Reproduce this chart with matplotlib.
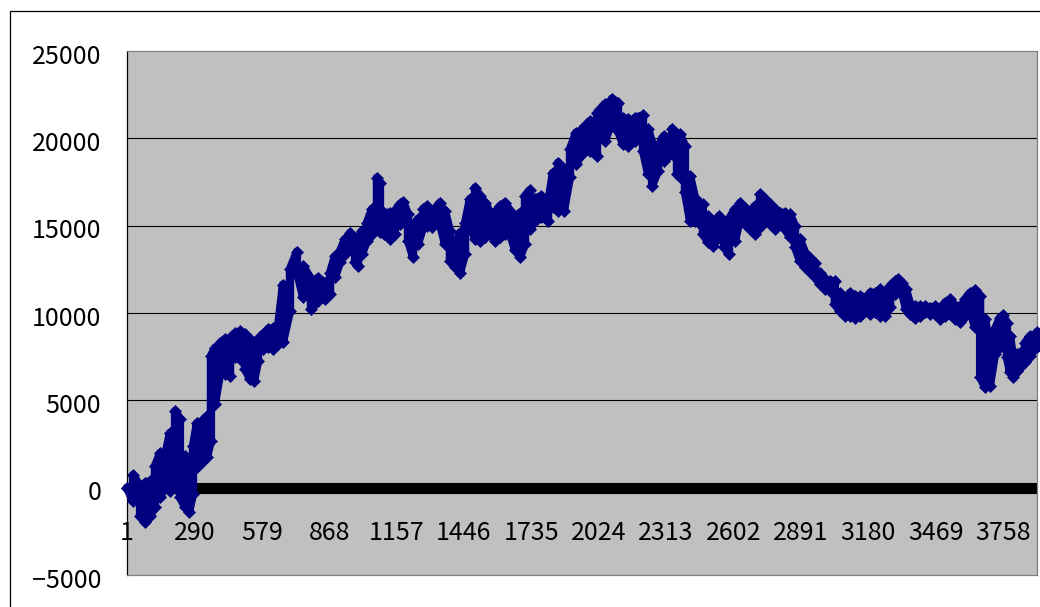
import matplotlib
matplotlib.use("Agg")
import matplotlib.pyplot as plt
from matplotlib.patches import Rectangle
from matplotlib.transforms import blended_transform_factory, ScaledTranslation

# Running total of the strategy: for each sampled trade number, the
# highest and lowest cumulative result reached around that trade
trade_no = [
    1, 27, 57, 78, 100, 121, 143, 164, 185, 207, 228, 250, 267, 284, 301,
    323, 344, 361, 378, 400, 421, 443, 464, 486, 507, 529, 546, 563, 584,
    606, 627, 649, 670, 700, 730, 756, 790, 820, 850, 872, 893, 915, 936,
    957, 979, 992, 1009, 1030, 1052, 1073, 1086, 1103, 1129, 1150, 1172,
    1185, 1206, 1228, 1249, 1271, 1288, 1309, 1343, 1365, 1386, 1408, 1429,
    1451, 1472, 1494, 1515, 1537, 1558, 1579, 1601, 1622, 1644, 1665, 1687,
    1708, 1729, 1751, 1777, 1807, 1828, 1850, 1875, 1901, 1927, 1953, 1987,
    2017, 2051, 2081, 2107, 2128, 2150, 2180, 2214, 2236, 2253, 2279, 2304,
    2339, 2360, 2373, 2394, 2416, 2437, 2459, 2471, 2493, 2514, 2540, 2562,
    2583, 2609, 2630, 2652, 2673, 2694, 2716, 2737, 2759, 2780, 2802, 2823,
    2845, 2866, 2887, 2909, 2930, 2952, 2973, 2995, 3016, 3037, 3059, 3080,
    3102, 3123, 3145, 3166, 3188, 3209, 3231, 3252, 3274, 3295, 3308, 3325,
    3342, 3360, 3381, 3403, 3424, 3445, 3467, 3488, 3509, 3531, 3552, 3574,
    3595, 3617, 3638, 3660, 3681, 3702, 3724, 3745, 3758, 3775, 3788, 3801,
    3818, 3831, 3853, 3874, 3904,
]
run_high = [
    0, 720, 90, 260, 380, 1240, 1980, 1810, 3130, 4390, 3930, 1810, 490,
    2380, 3700, 3810, 4100, 7540, 8000, 8280, 8510, 8570, 8850, 8970, 8800,
    8510, 8220, 8510, 8800, 9080, 9140, 9250, 11630, 12520, 13520, 12690,
    11950, 12020, 11730, 12310, 13260, 13550, 14240, 14580, 14310, 14030,
    14700, 15170, 15960, 17750, 17460, 15740, 15740, 15840, 16240, 16360,
    15670, 14880, 15380, 15960, 16130, 15740, 16320, 15840, 14700, 13840,
    14600, 15170, 16530, 17180, 16700, 16320, 15740, 15740, 16130, 16320,
    15840, 15270, 15740, 16700, 17040, 16530, 16700, 16320, 18030, 18610,
    18250, 19390, 20330, 20540, 21000, 21470, 21970, 22270, 22040, 21180,
    21110, 21180, 21320, 20540, 19750, 19560, 20140, 20550, 20140, 20230,
    19560, 17850, 16600, 16240, 16240, 15550, 15170, 15550, 15170, 15380,
    15960, 16300, 16030, 15740, 16130, 16800, 16530, 16240, 15960, 15740,
    15740, 15650, 14980, 14240, 13450, 13170, 12880, 12310, 11950, 11830,
    11830, 11160, 10800, 11160, 10970, 10970, 10880, 11160, 11160, 11360,
    11160, 11550, 11830, 11960, 11730, 11360, 10500, 10400, 10400, 10400,
    10300, 10400, 10300, 10590, 10780, 10400, 10400, 10780, 11160, 11320,
    10970, 9660, 8010, 9080, 9730, 9870, 9440, 8680, 7540, 7650, 7730, 8300,
    8680, 8910,
]
run_low = [
    -20, -770, -1630, -1970, -1630, -1110, -540, 30, -190, 380, -540, -1110,
    -1400, -370, 1180, 1470, 1750, 2670, 4790, 6510, 6510, 6390, 7480, 7360,
    6790, 6220, 6110, 7250, 7940, 8050, 7940, 8220, 8340, 10110, 12350,
    10920, 10230, 10700, 10800, 11090, 12060, 12920, 13380, 13780, 12920,
    12710, 13380, 14140, 14520, 14810, 14640, 14520, 14240, 14520, 15100,
    15290, 14140, 13210, 13950, 14920, 15000, 14910, 15100, 13950, 12990,
    12630, 12290, 13380, 15100, 14240, 14140, 14350, 14710, 14140, 14330,
    14520, 14520, 13610, 13190, 13950, 14810, 15290, 15500, 15290, 16070,
    15860, 15860, 17790, 18530, 19110, 19290, 19010, 19870, 20920, 20440,
    19680, 19580, 19870, 19290, 17960, 17290, 18150, 18720, 19110, 17960,
    17790, 16930, 15270, 15290, 15100, 14520, 14070, 13850, 14350, 13780,
    13380, 14140, 15380, 15100, 14810, 14520, 14920, 15380, 15100, 14810,
    15100, 14810, 14350, 13780, 12990, 12630, 12350, 12060, 11660, 11370,
    11280, 10510, 10130, 9840, 9840, 9710, 9840, 10130, 9940, 10040, 9840,
    9840, 10340, 11090, 11280, 11180, 10230, 9940, 9710, 9840, 10040, 9940,
    9940, 9660, 9840, 9940, 9660, 9470, 9840, 10130, 9200, 6330, 5760, 5840,
    7650, 8050, 8220, 7480, 6620, 6350, 6700, 6910, 7190, 7550, 8050,
]
n_trades = 3904
zero_x = [1, n_trades]
zero_y = [0, 0]

y_ticks = [-5000, 0, 5000, 10000, 15000, 20000, 25000]
x_tick_labels = [1, 290, 579, 868, 1157, 1446, 1735, 2024, 2313, 2602,
                 2891, 3180, 3469, 3758]

# walk through the highs and lows in alternating order so the path
# sweeps the full range covered at each step
path_x, path_y = [], []
for k, t in enumerate(trade_no):
    pair = (run_high[k], run_low[k]) if k % 2 == 0 else (run_low[k], run_high[k])
    for v in pair:
        path_x.append(t)
        path_y.append(v)

W, H = 1040, 607
fig = plt.figure(figsize=(W / 100, H / 100), dpi=100)
fig.patch.set_facecolor("white")

# outer chart frame
fig.patches.append(Rectangle((9.5 / W, 1 - 633 / H), 1060 / W, 622 / H,
                             transform=fig.transFigure, fill=False,
                             edgecolor="black", linewidth=0.9))

font = ["Noto Sans CJK JP", "DejaVu Sans"]
fs = 18

ax = fig.add_axes([127 / W, 1 - 575 / H, 910 / W, 524 / H])
ax.set_facecolor("#C0C0C0")
ax.set_xlim(1, n_trades)
ax.set_ylim(-5000, 25000)

for v in [5000, 10000, 15000, 20000]:
    ax.axhline(v, color="black", linewidth=0.8, zorder=1)

ax.plot(zero_x, zero_y, color="black", linewidth=8.0,
        solid_capstyle="butt", zorder=2)

ax.plot(path_x, path_y, color="#000080", linewidth=6.0,
        solid_joinstyle="round", solid_capstyle="round",
        marker="D", markersize=5.8, markerfacecolor="#000080",
        markeredgecolor="#000080", markeredgewidth=0.5,
        clip_on=False, zorder=3)

ax.set_yticks(y_ticks)
ax.set_yticklabels([f"{v}".replace("-", "\u2212") for v in y_ticks],
                   fontfamily=font, fontsize=fs)
ax.tick_params(axis="y", length=0, pad=18.5)
shift = ScaledTranslation(0, -2.5 / 100, fig.dpi_scale_trans)
for lab in ax.get_yticklabels():
    lab.set_transform(lab.get_transform() + shift)
ax.set_xticks([])

trans = blended_transform_factory(ax.transData, ax.transAxes)
for lab in x_tick_labels:
    ax.text(lab, (575 - 540.5) / 524, str(lab), transform=trans,
            ha="center", va="baseline", fontfamily=font, fontsize=fs,
            zorder=4)

for side in ["top", "right", "bottom"]:
    ax.spines[side].set_color("#808080")
    ax.spines[side].set_linewidth(0.9)
ax.spines["left"].set_color("black")
ax.spines["left"].set_linewidth(0.9)

fig.savefig("out.png", dpi=100)
